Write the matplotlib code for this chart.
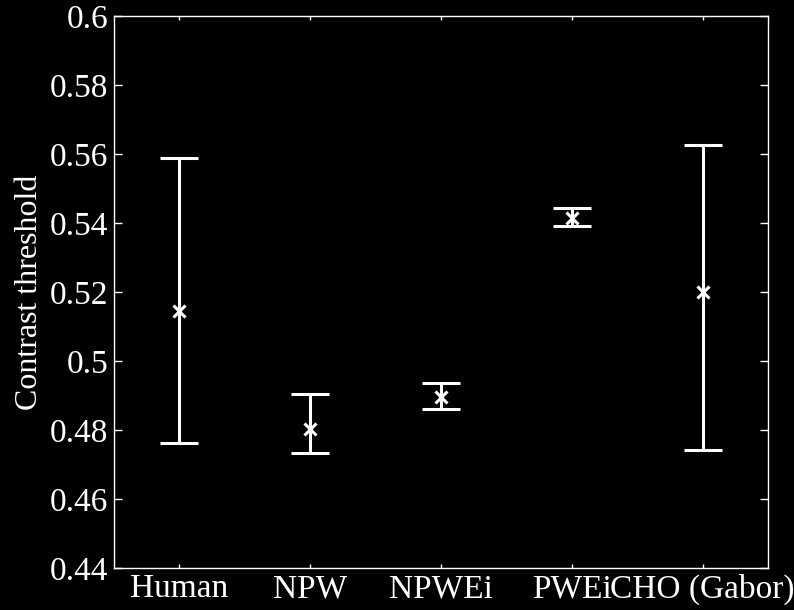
import matplotlib
matplotlib.use("Agg")
import matplotlib.pyplot as plt
from matplotlib.ticker import FuncFormatter

# Contrast thresholds per observer model
models = ["Human", "NPW", "NPWEi", "PWEi", "CHO (Gabor)"]
threshold = [0.5145, 0.4803, 0.4896, 0.5415, 0.5200]
upper = [0.5588, 0.4904, 0.4936, 0.5444, 0.5626]
lower = [0.4762, 0.4733, 0.4861, 0.5390, 0.4742]

plt.rcParams["font.family"] = ["Liberation Serif", "DejaVu Serif"]

fig = plt.figure(figsize=(7.94, 6.10), dpi=100, facecolor="black")
ax = fig.add_axes([0.1436, 0.0689, 0.8237, 0.9049], facecolor="black")

x = list(range(1, len(models) + 1))
err_lo = [t - l for t, l in zip(threshold, lower)]
err_hi = [u - t for t, u in zip(threshold, upper)]
ax.errorbar(x, threshold, yerr=[err_lo, err_hi], fmt="x", color="white",
            ecolor="white", elinewidth=2.2, capsize=13.5, capthick=2.2,
            markersize=8, markeredgewidth=2.2)

ax.set_xlim(0.5, 5.5)
ax.set_ylim(0.44, 0.6)
ax.set_xticks(x)
ax.set_xticklabels(models)
ax.set_yticks([0.44, 0.46, 0.48, 0.5, 0.52, 0.54, 0.56, 0.58, 0.6])
ax.yaxis.set_major_formatter(FuncFormatter(lambda v, p: f"{v:g}"))
ax.set_ylabel("Contrast threshold", fontsize=23, color="white", labelpad=4)

for s in ax.spines.values():
    s.set_color("white")
    s.set_linewidth(1.0)
ax.tick_params(direction="in", width=1, colors="white", labelsize=24,
               top=True, right=True)
ax.tick_params(axis="x", length=3, pad=4)
ax.tick_params(axis="y", length=5.5, pad=4)

fig.savefig("out.png", dpi=100, facecolor="black")
